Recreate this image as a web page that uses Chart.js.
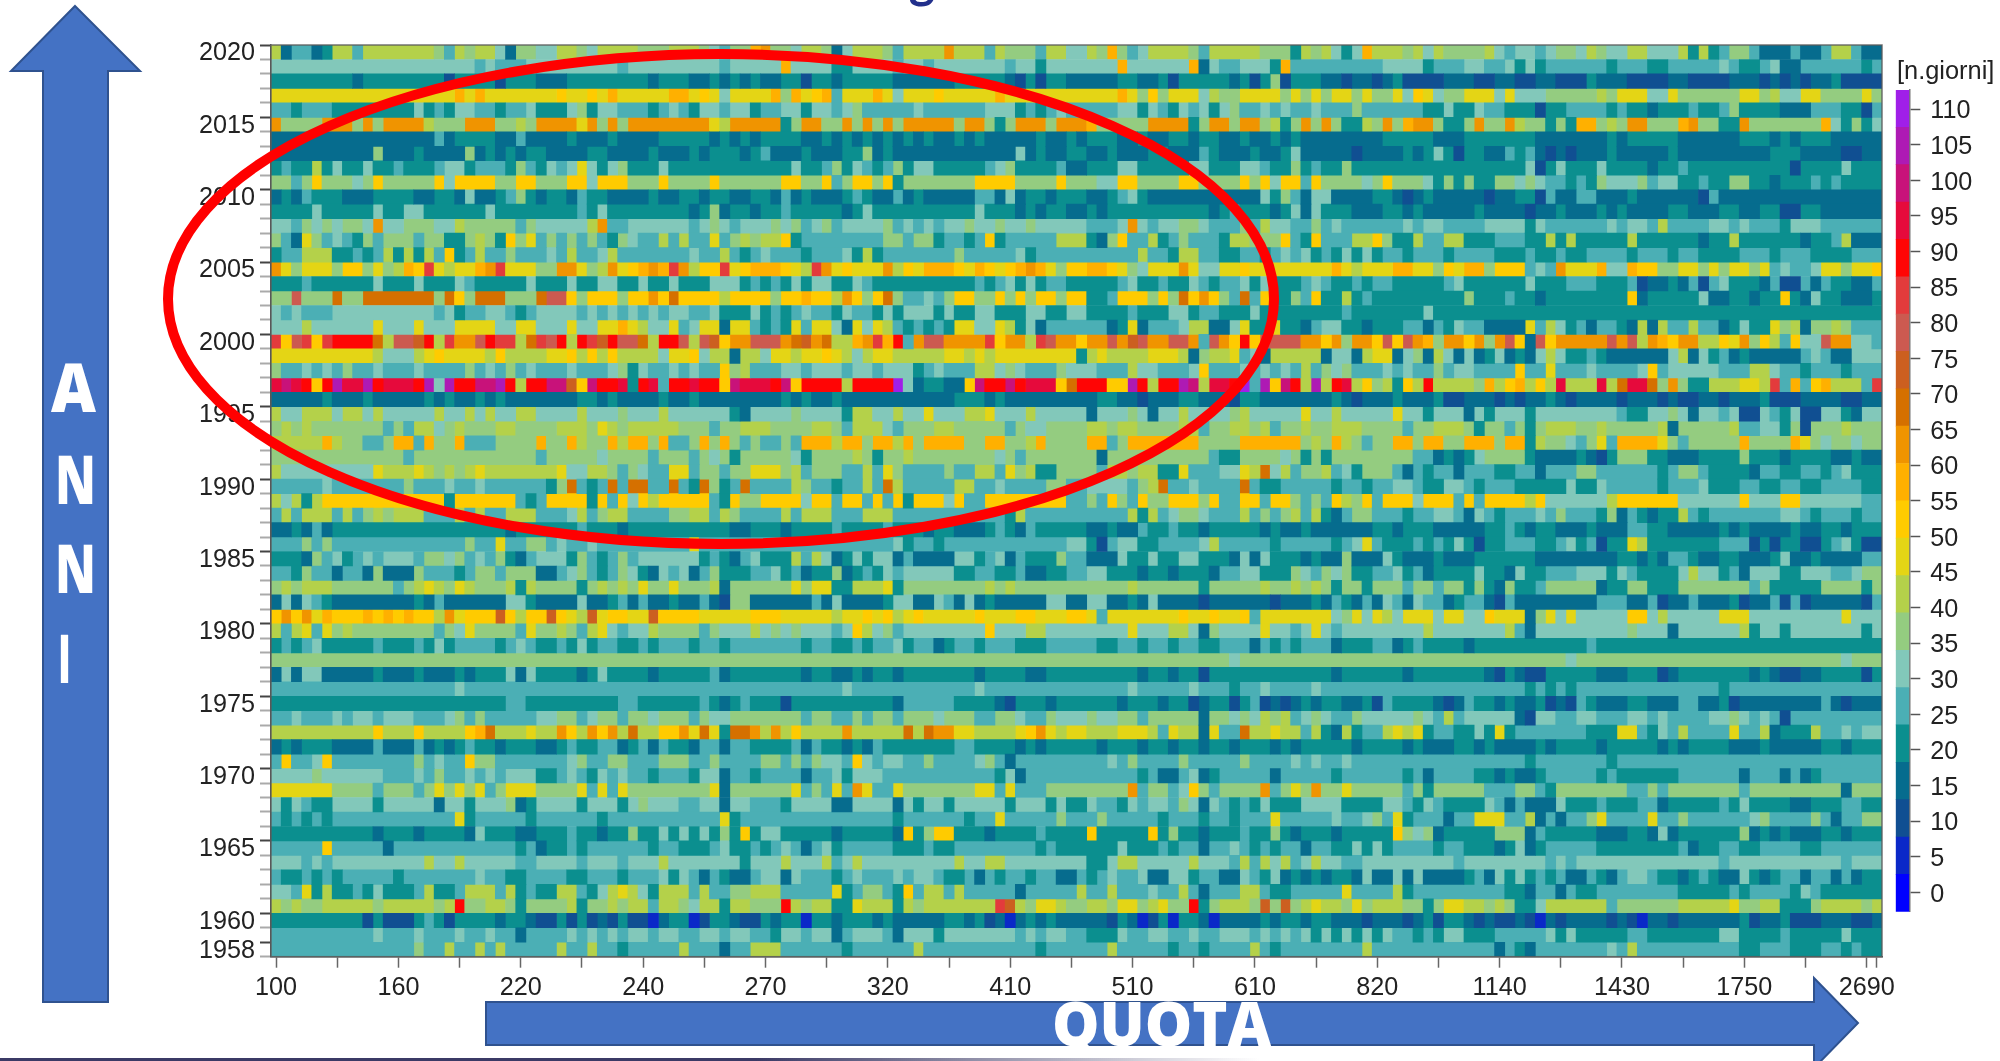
<!DOCTYPE html>
<html><head><meta charset="utf-8">
<script src="https://cdn.jsdelivr.net/npm/chart.js@4/dist/chart.umd.js"></script>
<style>
html,body{margin:0;padding:0;background:#fff;width:2000px;height:1061px;overflow:hidden}
canvas{position:absolute;filter:blur(.45px)}
#main{left:0;top:0}
#bar{left:1880px;top:60px}
svg{position:absolute;left:0;top:0}
#unit{position:absolute;left:1897px;top:55px;font:25.4px "Liberation Sans";color:#222;line-height:30px}
#rule{position:absolute;left:0;top:1058px;width:1260px;height:3px;background:linear-gradient(90deg,#3b3a66 0,#3b3a66 60%,rgba(59,58,102,0) 100%)}
</style></head><body>
<canvas id="main" width="2000" height="1061"></canvas>
<canvas id="bar" width="120" height="880"></canvas>
<div id="unit">[n.giorni]</div>
<svg width="2000" height="1061" viewBox="0 0 2000 1061">
<text x="922" y="-2" text-anchor="middle" font-family="Lato" font-weight="700" font-size="50" fill="#22308c">g</text>
<polygon points="75,6 140,71 108,71 108,1002 43,1002 43,71 11,71" fill="#4472c4" stroke="#2f528f" stroke-width="2"/>
<polygon points="486,1002 1814,1002 1814,978 1858,1023 1814,1068 1814,1045 486,1045" fill="#4472c4" stroke="#2f528f" stroke-width="2"/>
<ellipse cx="721" cy="299" rx="553" ry="245" fill="none" stroke="#ff0000" stroke-width="10"/>
<g font-family="Open Sans" font-weight="800" font-size="68" fill="#fff">
<text x="51" y="412" textLength="45" lengthAdjust="spacingAndGlyphs">A</text>
<text x="55" y="504" textLength="41" lengthAdjust="spacingAndGlyphs">N</text>
<text x="55" y="593" textLength="41" lengthAdjust="spacingAndGlyphs">N</text>
<text x="58" y="683" textLength="13" lengthAdjust="spacingAndGlyphs">I</text>
<text x="1052" y="1046" font-size="62" textLength="219" lengthAdjust="spacingAndGlyphs">QUOTA</text>
</g>
</svg>
<div id="rule"></div>
<script>
const quotaLabels=["100","160","220","240","270","320","410","510","610","820","1140","1430","1750","2690"];
const yearLabels=[2020,2015,2010,2005,2000,1995,1990,1985,1980,1975,1970,1965,1960,1958];
const legendTicks=[0,5,10,15,20,25,30,35,40,45,50,55,60,65,70,75,80,85,90,95,100,105,110];
const bandCodes="abcdefghijklmnopqrstuv";
const bandColors=["#0000ff","#0a28c8","#104f92","#066c8e","#0b8f8f","#4bafb5","#82c8ba","#94cc80","#b4d14a","#e4d515","#ffcb00","#ffb000","#f09400","#d57000","#cc5f20","#cc5a50","#e33b3c","#ff0505","#e60a3c","#c8127a","#ae1ab4","#a01fe8"];

// One string per year, low-altitude half | high-altitude half,
// letter = colour band of n.giorni, number = how many neighbouring quota cells share it.
const cells2020to2011=[
"idf2dei2fi7hfihi2gdh2g2i2hgi4h3i3hgfh2lmh2gi2hdgi3hfi4mi3fih3fi2g2|ihlhfgi4hfi5h3eihigegli3higihhhhigfg2fgh2gihg2i2g3ieiefh2fd3fd2fi2fd2g",
"g20fgf3g9fg9fg5lg4e2g4fg2fg7fg2eg4|g3lg6ldgf2g3elf9g4ef3g2f2gegef6ef3e2f5gfe2fgd2f6ef",
"e8de8ce4ce3d3e8de3d2ededed2e2ce2de5d6e5dcece2d|d3e2d2ece5decehce3d2cd2cdec4d3c2d2c2d2c3ed3c4d2c4d3cdcdcd2ec5",
"j18ljlj7kj2kjlj5l2jkjgj4lhljklfj3ljgj3kj5lj7|j3ljhkhj3gih2j4hjhjhj2hjh2jgkjgh2j3gjg3h5ihj3g2jh6j2hig2j2h4jh",
"f2ef3e8gefeg2f2ef2ge3gheg2f3efgfeg2fg2ef2g2eg2fghf5gf6g3efefgf|f3g2egfegfgeghf2gfgf2gf3hf6e2ge2gf2e3ce2f4efe2de3fe2fhe4d3f3e2cf",
"mh4m3hmhm4ih3m3h2ihm4jmhmhm8jim5ehm2h2mhmhmhm5hm2hehm3hm3|lh5m4ehm2hm2hiehmhmhe2ihmhlm2he2hmh2mih2ehel2hihm2h3lmh2e2mh7lgeheg",
"d16fde4d2fd4ed3ed4e5dedede4d2edededededed2eded5ed2ed2e3|e3d2ed2e2de2d2ed2eded8e5d3e2e5d7ede5d6e3dede3d5",
"d10hd3ed4hdedede2d4e2d4ed3ede3defd3ed3e2hdedd11gded2e3|d2ed3e2d3fed3ed2egd5cd4edegece2d2fefdcdcd3ed5ed9e3d4c2d2",
"efe2iege2ge2fe3fg2ef3ehfegfgjgeghe3ge12ge2fhegfefheg2e5fghe4fd|e3g2e4eg2e3g2fe2hefe2he17gcege3ge4de2fe10ce4ge3",
"h2fhkh3ghkh5kgk4h2k2h3k2gk3h3kh4kh6k2h2kfhk2hkeh7k4h4kh|hg2k2h4k2h4khkgk2fkh4ghkh3gehehe2h2ghgf2efehg3hfg2e2fe2h2e2de3fefe4"
];
const cells2010to2001=[
"dedfe3d3e4d2e2dgd2efhede2dfe2d4ed2e2de2d2e2dfded3efed2fded5f2dgde2de3|d2efged11gehfdg2d4e2dcded5cd2e2cfd2f2d3ed6cfd16",
"e4ge5ge2g2e6ge8fege8dehde2de2fe5dege10ge3dede2d|ede7e3defe3degdge3d3e2ded5ed4cd2ed3eded4e2d3e2d2e2c2e2d6",
"g2fhghgh2gmg2h3g2ih5fhg5imffg6fghgfg3hghfghfg4hfgfgfg2hg2hg2hg5|f3gmgfg2h2gf3hfig2f2hfgf6gfg2f4g4egf6gfg2fif4g2fgf3eg3f6",
"hfdjhfgfehfh3fh2e2hihekhjfhfhfhfehgf2ifif2jfhihi2kef8h2fh2ef2efkef5i3|edhkf2iefhf3ei2h3kfekf3i2khe2if2i2e3f3e2ieie5ie6de2ie6de2fid3",
"ef2i3e2fefieieifkefif2hf3gfif2gif7gf2ifefgf3ef3geief7hf5gef6|f5if2ei2f2e2f2efgfgefegegef2ef3ef4e3fe2fe2f4ef3ef2e4f3ef3e4f2",
"mjhj3hk2hjhilkqjij2lmqj3h2m2jhimjklmlqmik2qjkl3kjiqmjkj3mikjl3kjlkjklmljhk|l2kjhgj3mjg2j2kj8ljij3l2j2hkjl2hk3fgfmj3lg2lk2h2j2hjhj2hjfgf2gj2hj2k",
"e3fe6ge3ge3gfe5ge3ge2g2e2ge2ge3g3efefegeg2e2gfe10fefgegef2e|e3fge2fe2gfef2gege3fgfe2fef2e5fge6ge3f3e3fcd2edfcfge3dfc2fdfe2d2f",
"h2ph3nh2n7hnkhn3h3np2khk3hk2mknk4ik4hk2lk2imkhknhf2gfhk2h2khkhk2hk|e2fk3hkhnkmkhfnfke2hfke2iefe9he3fe2de8kde5gd2e2de2kedge2d3e",
"gfgf3g10fgef2g2fefg4fgfgfgfgfg2f2ge3gefefgf2egf2egeg3ege2g2e3g2e2g|e4fe3g2ef2e3ge8fe7ge44",
"g3ig6jg3jg3j4g2j2g3jg2j2ljig2jfgj2dj2fefejfj2gdjgjifefefej2g2jiegdf4|f2dejdf3gi2d2gje2je2dfg2e2de3f2dfegf2d4jfigefdf2edidif2if2dege2jhidh2ihf2"
];
const cells2000to1991=[
"qkpqkqr4nip2oriqm2prq2inqprirqorp2nir2pipokm2p3mnomniilmqlrfmp2m4qkm2iqpm2k|m2pmopm2p2mfpmkrkp4m2kmhm2kpkpmlhm2kmhmpkdpkm5pmpimlkm2i2kjmhkifkg2pm2g2f",
"j10ig3ijkj4ikii3j2kikikii3gj2kgi2di2gj2ij2kjigij2i5j2ijij8e|iji2i2j3idhi2jfgdi5dg2dij2dghdigdgdegdedgige2fed6gidgefdedd4fgfd2g",
"hf2gfgfhf2gf3gf4hfgfhfgf3gf3ghegf2gfgf2khif3g2fg3fg2fg3efgf3i2ghgf3hg|gf3ig2f3gkf3gfgfgfifhghf3gfgf2hfg2f4kf2jf3gf4gkfg5f3i2gf2ef3ef2",
"stsrkrus2urs3rugur2t2urir2t2oktr2sersfr2sr2kts3rtkr4ir4vgde2d2ktr2trs3knr|r2k2urir2utis2rvfuktriuirsikhiekiri4hliklikisi3sins2nhmhe2i3j2iqflfkli3fq",
"d5ed3ed5eded2ededd6e2ded4ed2ed7deded2ed11e3ded8cd4|de2d2cd3e2d3ce2d7edcd3ed3ec2d3cdcd2edcd4cd3cdc2d2cd3ec3d4c2d",
"ig2i3gi2gig5ig2igig2i2g4ig3hg3ig6edg4hg4ei2g2ig2jg3i2jg3ig5|dg3hgdg2ig4hig5jg2ig5jg2eg3dgeg3eg8fe2g2hgdg2fgc2gfegc2g2edg2",
"hihih7fhfi2ghih3i2h4i2ihjihi5h3fh2i3h4i2hfi3gfh3i2h5fhg2h3|i2hi2h4i2fh2i2hifh2ih2i3h4fh2i3heh2fhehi3h2ih5idh5if2g2ehch3ih3",
"i5lih2f2hl2flh2lf3h4lh2lih2lil2hlf2hlhlhfhf2hfl3il2hl2ilhl4h2l2h2ilh4|l2fhl7h4l6hihlihfh2l2hl2h2l3hl2eih2gfhjfl4jhfh5lh4ljhgh2gh2",
"h13fh12fh5gh4fh3fhgheh5geh4iheh2ih8ghfh6|hdh6h3hfe2h4gheheh8f2dedegh4ed4edceh3e2d3e4he3de4d2ed2",
"ig9ji3jihihiji7jg2i2hfhgf2j2fh2fh2j3hifh3f2ifjhf4hf2i2fjhie2h3|hfi2hi2e2jf3g2jingifh2ifgeh3fdfef2df3e2f2df3h2f6efh2fe4df2e2f2efge3"
];
const cells1990to1981=[
"f5gf7hf3gf2gf6ehnfefnfn2f2nfenhefnf4ihf2ef2ifnif5i2f2gf4h2f|g4fhinf2gf4nfe2f5ef2ef2g2fe2g2fef3e5ge2gf5ef3ge3f2e2f2e2f4e2",
"igieik12ek2k4fefk4ekfkgkik5fekh2k4gk2fk2fkfkek3gkf2k8f3|hfkhfkh2k3hkf2k2fk2hfhfkihkfk3gk3fkfk4ikg6ik6g6kg3k2g6f2",
"fifi3fifhihi3f3ifif2i3f3gifhi2f4h2i2fihf4ifi3f3i3f11eif5|f4ieifgh2gf3ifhfhifiedfh2f3ef2g2fdgfef3gfhf3ehdfede2ifef7g2fef3ef2",
"d2edfde17de6fe3de10d2e3de4fe4fe3de2d3efedfe4|d2ed2fe2fe2de5ded2ed2d4e2de3d5e2fede2d3ed3f2e2d5eded4ed2e2de3",
"f3hfhf13hf2jf2h2fgf2gf9jf19gef2ef12g|ecfg2e2f4gif5ef5efgjfe3fefegece2f3e2fgefce2jie7f3cece2c2efgec2",
"e3dhfgefgfg3fh2ghfgfhedfg3ehfefhfg6efedfge3ifigdegeg2dfd4g2efgdfe3hf|d3ge2ge2g2e3dgdge3ded2hd3ged3ed3e6d8e2dedf2ed2e2d3egd2ed4f",
"f2ehf2df2dhd3hf3efh2fh3d2fghfefhgedgfgdfhe3f2gefde2hdefegfg5e2f2e2fd2e2f|g2e3de2de3df2g2e3hgfhghe2f2gefde4ge2dge2f3g3egfe4gig2efdg3e2g3f2gh2",
"hihi3h6fhijihjih3ieih4ehihihjh2jh3idh6jhj2e2i3jeh8ihih6|h4ih6eh5ih2ihiheh2eh3fh2fh2ehedhe2fh5de2h2e3h7fhe5h4eh",
"dgdgfed8edfd6g2ed4gd2efdfd2ed2fdch2d6fdgd4eg2d2gfdgded5g2d|g2d2edgd4cd6cd3edfedfdgfdgf2def2dcfd8f3d2fcd2fd3ecd2fcfcd5cf",
"kmkmjlk3lklklk2imjk3okik2okjiojk2j2ok4j5k3j5ij2kjkijkj5kj3k2j3k|jfj7kj2kj2kfj7ghjgjigj3gj2g2kj3dhjgjg5k2gig5j3g9jg3"
];
const cells1980to1971=[
"ifijfjhih8fhgjh4fjh2ihfijgfg2ih4fhg3ighghg3fgkighfg8kg3i2g4|g4jg3i2gdhg4jg2fgjgfg8ig7ifdg9hg3dg6ieg2eg7eg",
"efefgee4fe3fegef4efgfe2fegef2e2fef3ef2ef7ef2e2fef2gef2def2ef3e3f4|fe2f2ef2ef2e2f3dfefef3de3f2defe4de11fe28",
"h80|h14gh32gh26gh3",
"dgdg2d5ed3ed3ede3gdge4dege4de5fde7de2d2ede2de7de4d2e4|e5de2de2ce12de6de7dcedc2e5d3e3cde7dedc2d2e4ce",
"f18gf37gf12gf8|f4gf5gf3ef2gf4gf20efefef14ef15",
"e23f2e9f2e6fedefe3ce10df5e4dce3de3|e3de3de2cde2cefcdcdede2d2ecfe4dcdfe2ded2ecdcfed3e2d3f2d2ecd8fdcd3",
"f2gf3gfg2fg3f3ghfhf5g2h2fgh2fh2gh3fhg2h7fh2f2hfh2fh3gh3f2h2gf2hg3|hg2h2fh5dh2ghgihifghgf2hg5hgfifg5dcg2f2g2f3g2fgf4g2hgfgfcf9",
"i10ki3ki4klni3ji2mkimkmini2k2mjnjen2mimiki4mi5ninm2j2i4jkmjij|i3j3ifji2djf2ni2ji2fiedief2ijijef2e2gejef7e3j2fegfif4jf2ide3if2gfg",
"dede3d4fd3fdedefe2de3d2efe2f2defdfe2df2df2e4fdfe2dedfe7f2e4dede4|ede3de2de2de2de3dede5de4ded3e2ded4ede4de5dede4d3ed5e2de3",
"fkf2gkf8hfgf2kh2f7ghf2h2f3h3f2hf4h2fhfhg2fkgfg2f2hf4ghfdf6|f2gfhf4hf5hf4gfgf2gf17ef7ef26"
];
const cells1970to1961=[
"g4hg6f3gfhf2gfgfg3e2fgfegfgf2ef3eg2df2ef4df2geg3f10fegdf4|f5efd2fgdef5df5ef6efdf4e2ded2ef5efe6f6df3dfdef6",
"j6h4fh3fhjhjhjfhj3h4jfjfjh8jdh6jfhfjfmjf2jh7j2fjf3h4|h4mfh2fgkhfh4mfhjhmh2jh5fheh5f3h2feh7f2hfh7fh9dh3",
"gegfe2g4eg5dg2eg3hdeg4eg3eghg3f2g2dg2f3eg4d2g4dgeg2eg5eg3ege|gf2egfg2fhgdgfefegee2g4e4g2fegfe4gfdfd3ge3fe3f2de5fege4d2e3f2e3",
"fefefef12jef5ef6ef11jef15ef6ef2jf5hf|fhf5ef3ef2ef3jf5gf2ghfjef3df2j3f2idfdf2hjf4jf2hf6ghf4hfdf2h",
"e10de3de4dge3d2e3fe2de2he2gegegehekeg2e5de5dkehk2e3de4fe4|ke5kehe2de3fe2hede3de5khghde5h3dfe5d3e2dgde6hdeded3e2de3",
"f5kf5df12efde2fef4f2ef2e3fge2fefgfdfgef5e3fe2f8efe3|e3ge3fef2df2gfefef2df2e2gegef4ef2e3degdef5e8fde2f2e2f4e2f",
"g3fgfg9ig2ig5f2g4fg3fg3ig7eg3ig3ifgig9ig2i2g7|e2gi2g5ig3fifigifgig2f2g9fg8fgfg14fg11fg3",
"fe2fefef5ef3f4gf2e2f4e2f3ef3gegfdfed2fg2dgf3efgf3gfg2fe2fdfef2ef2d2f|efgf2gd2g2ef2d2gfegdedede2dgd2gdgd4efdgegefefd2fedfg2fe2defed2gedef2df2dfde2",
"g2fjeie2fege3fie2fi3fiefe2i2fegijigei3fif2h2i3f5jefh2fekfi2fif5df5i|f2if3gf2ifdf3i2fe2f5jf4ief9e2df2dfe2f8e5fef4egfe6",
"ihih2i5hi5hirh2i2heh4ieh2ihi2fi2hgi2ei2h3rihi2e2ji3eihi7qoihj2ih|i2hj2hijh2rehi3hohohiji2hjhi3h2ehj2i2hihe2gi6fh6i5jh2i2e3hi4hi"
];
const cells1960to1958=[
"e9cec3efece4de2dc2ececdcec2bde2bce2dc2ede2be2de3ded5e2decdbdeded|d2cedbcebe2dbd4ede2de2d3cd3cdece2dcdc2dcbdcd4cdcbd2cd6ecd2ec3d3c2d",
"f10gf3gf3gf2gf2df4gfgfgfg2fg2f2g2fg2f2eg2fg2dfg3fdg3eg7fgfg2f|e3gf2g2f2gf2g3fgfgfgegegegegf2efeg2e3f5gege5f2e7g2e4fe5ge3",
"f14hf2if2ifif5if2if2ef5if3df2i3f6ef6if11ef4|f2if5ef2ef4ifef8if6f6dfedf7gfif10e2f3e3f2efe2"
];

const allRows=[...cells2020to2011,...cells2010to2001,...cells2000to1991,...cells1990to1981,...cells1980to1971,...cells1970to1961,...cells1960to1958];
const years=allRows.map((_,i)=>String(2020-i));
const leftCols=80,rightCols=78,totalCols=leftCols+rightCols;

function decode(s,len){
  const out=[];
  for(const m of s.matchAll(/([a-v])(\d*)/g)){
    const n=m[2]?+m[2]:1;
    for(let k=0;k<n;k++)out.push(m[1]);
  }
  while(out.length<len)out.push(out[out.length-1]);
  return out.slice(0,len);
}
const perBand=bandColors.map(()=>[]);
allRows.forEach((row,ri)=>{
  const [l,r]=row.split("|");
  const cells=[...decode(l,leftCols),...decode(r,rightCols)];
  let start=0;
  for(let c=1;c<=totalCols;c++){
    if(c===totalCols||cells[c]!==cells[start]){
      perBand[bandCodes.indexOf(cells[start])].push({x:[start,c],y:years[ri]});
      start=c;
    }
  }
});
const labelledYears=new Set(yearLabels.map(String));

new Chart(document.getElementById("main"),{
  type:"bar",
  data:{labels:years,datasets:bandColors.map((col,i)=>({data:perBand[i],backgroundColor:col,grouped:false,borderWidth:0,barPercentage:1,categoryPercentage:1}))},
  options:{
    indexAxis:"y",responsive:false,animation:false,events:[],
    layout:{padding:{top:45,right:118,left:0,bottom:0}},
    plugins:{legend:{display:false},tooltip:{enabled:false}},
    scales:{
      x:{type:"linear",min:0,max:totalCols,
        afterBuildTicks(s){const t=[];for(let c=0;c<totalCols-1;c+=6)t.push({value:c+.5});t.push({value:totalCols-.5});s.ticks=t;},
        afterFit(s){s.height=104.3;},
        border:{color:"#555",width:1.5},
        grid:{drawOnChartArea:false,drawTicks:true,tickLength:11,tickColor:"#666",tickWidth:1.5},
        ticks:{autoSkip:false,maxRotation:0,padding:5,color:"#222",font:{family:"Liberation Sans",size:25.2},
          callback(v){const c=v-.5;return c%12===0?quotaLabels[c/12]:"";}}
      },
      y:{type:"category",offset:true,
        afterFit(s){s.width=271;},
        border:{color:"#555",width:1.5},
        grid:{drawOnChartArea:false,tickLength:11,
          tickColor(ctx){return labelledYears.has(years[ctx.index])?"#444":"#aaa";},tickWidth:2},
        ticks:{autoSkip:false,padding:5,color:"#222",font:{family:"Liberation Sans",size:25.2,lineHeight:"2.4px"},
          callback(v,i){return labelledYears.has(years[i])?["",years[i]]:"";}}
      }
    }
  },
  plugins:[{id:"frame",afterDatasetsDraw(c){const a=c.chartArea,g=c.ctx;g.save();g.strokeStyle="rgba(90,90,90,.85)";g.lineWidth=1.5;g.strokeRect(a.left,a.top,a.right-a.left,a.bottom-a.top);g.restore();}}]
});

const barMin=-2.73,barMax=112.7,bandStep=(barMax-barMin)/bandColors.length;
new Chart(document.getElementById("bar"),{
  type:"bar",
  data:{labels:["n.giorni"],datasets:bandColors.map((col,i)=>({data:[[barMin+i*bandStep,barMin+(i+1)*bandStep]],backgroundColor:col,grouped:false,borderWidth:0,barPercentage:1,categoryPercentage:1}))},
  options:{
    responsive:false,animation:false,events:[],
    layout:{padding:{top:30,left:15.7,bottom:28.3,right:0}},
    plugins:{legend:{display:false},tooltip:{enabled:false}},
    scales:{
      x:{display:false},
      y:{type:"linear",position:"right",min:barMin,max:barMax,
        afterBuildTicks(s){s.ticks=legendTicks.map(v=>({value:v}));},
        afterFit(s){s.width=90.7;},
        border:{color:"#777",width:1.5},
        grid:{drawOnChartArea:false,tickLength:11,tickColor:"#555",tickWidth:1.5},
        ticks:{padding:10,color:"#222",font:{family:"Liberation Sans",size:25.2,lineHeight:"4.6px"},callback:v=>["",String(v)]}
      }
    }
  }
});
</script>
</body></html>
